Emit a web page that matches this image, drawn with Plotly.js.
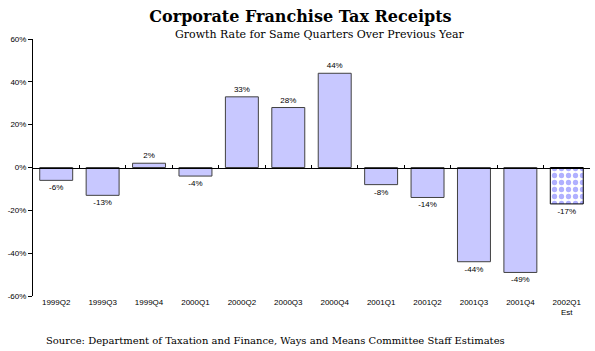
<!DOCTYPE html>
<html><head><meta charset="utf-8">
<script src="https://cdn.plot.ly/plotly-3.0.1.min.js"></script>
<style>body{margin:0;background:#fff}#c{width:595px;height:351px}</style>
</head><body><div id="c"></div>
<script>
const categories = ["1999Q2","1999Q3","1999Q4","2000Q1","2000Q2","2000Q3","2000Q4","2001Q1","2001Q2","2001Q3","2001Q4","2002Q1<br>Est"];
const growth = [-6,-13,2,-4,33,28,44,-8,-14,-44,-49,-17];
const barLabels = growth.map(v => v + "%");
const yTicks = [-60,-40,-20,0,20,40,60];
const yTickText = yTicks.map(v => v + "%");
const isEstimate = categories.map(c => c.indexOf("Est") >= 0);

const pick = (arr, est) => arr.filter((_, i) => isEstimate[i] === est);
const labelFont = {family: "Liberation Sans, Arial", size: 8, color: "#000"};

const actualBars = {
  type: "bar", x: pick(categories, false), y: pick(growth, false),
  text: pick(barLabels, false), textposition: "outside", cliponaxis: false, textfont: labelFont,
  marker: {color: "#c8c8ff", line: {color: "#404040", width: 1}},
  hoverinfo: "skip"
};
const estimateBars = {
  type: "bar", x: pick(categories, true), y: pick(growth, true),
  text: pick(barLabels, true), textposition: "outside", cliponaxis: false, textfont: labelFont,
  marker: {color: "#b0b0ff", line: {color: "#000", width: 1},
           pattern: {shape: ".", bgcolor: "#ffffff", size: 7, solidity: 0.45, fillmode: "replace"}},
  hoverinfo: "skip"
};
const axisDummy = {type: "bar", x: categories, y: categories.map(() => null), xaxis: "x2", yaxis: "y", showlegend: false, hoverinfo: "skip"};

Plotly.newPlot("c", [actualBars, estimateBars, axisDummy], {
  width: 595, height: 351,
  margin: {l: 33, r: 5, t: 39, b: 55},
  paper_bgcolor: "#fff", plot_bgcolor: "#fff",
  showlegend: false, bargap: 0.29, barmode: "overlay",
  title: {text: "<b>Corporate Franchise Tax Receipts</b>", x: 0.505, xanchor: "center", y: 0.97, yanchor: "top",
          font: {family: "DejaVu Serif", size: 16, color: "#000"}},
  annotations: [
    {text: "Growth Rate for Same Quarters Over Previous Year", xref: "paper", yref: "paper", x: 0.515, y: 1.0, xanchor: "center", yanchor: "bottom", yshift: -4, showarrow: false,
     font: {family: "DejaVu Serif", size: 11, color: "#000"}},
    {text: "Source: Department of Taxation and Finance, Ways and Means Committee Staff Estimates", xref: "paper", yref: "paper", x: 0.02, y: -0.175, xanchor: "left", yanchor: "middle", showarrow: false,
     font: {family: "DejaVu Serif", size: 10, color: "#000"}}
  ],
  xaxis: {type: "category", categoryorder: "array", categoryarray: categories, showline: false, ticks: "", showgrid: false, zeroline: false,
          tickfont: labelFont, fixedrange: true},
  xaxis2: {type: "category", overlaying: "x", anchor: "free", position: 0.5, side: "bottom",
           showline: true, linecolor: "#000", linewidth: 1, ticks: "inside", ticklen: 3, tickcolor: "#000",
           tickson: "boundaries", showticklabels: false, showgrid: false, zeroline: false, matches: "x"},
  yaxis: {range: [-60, 60], tickvals: yTicks, ticktext: yTickText, showline: true, linecolor: "#000", linewidth: 1,
          ticks: "outside", ticklen: 4, tickcolor: "#000", showgrid: false, zeroline: false,
          tickfont: labelFont, fixedrange: true}
}, {displayModeBar: false, staticPlot: true});
</script></body></html>
